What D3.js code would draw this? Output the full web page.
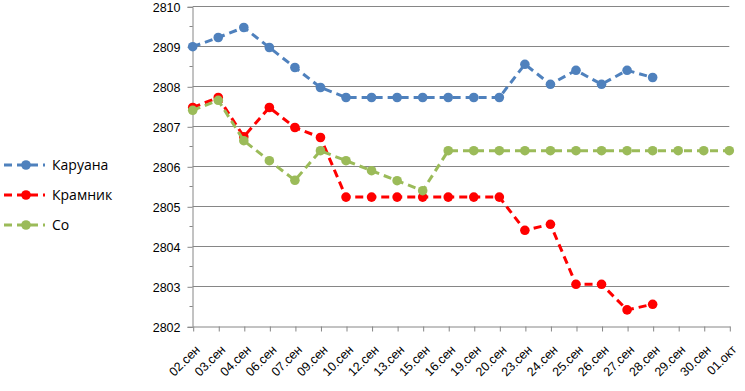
<!DOCTYPE html>
<html>
<head>
<meta charset="utf-8">
<script src="https://cdn.jsdelivr.net/npm/d3@7"></script>
<style>
  body { margin: 0; background: #fff; }
  svg { font-family: "Open Sans", "DejaVu Sans", sans-serif; }
</style>
</head>
<body>
<div id="chart"></div>
<script>
// dates along the x axis
var dates = ["02.сен","03.сен","04.сен","06.сен","07.сен","09.сен","10.сен","12.сен","13.сен","15.сен",
  "16.сен","19.сен","20.сен","23.сен","24.сен","25.сен","26.сен","27.сен","28.сен","29.сен","30.сен","01.окт"];

var caruana = [2808.99,2809.22,2809.47,2808.97,2808.47,2807.97,2807.72,2807.72,2807.72,2807.72,
  2807.72,2807.72,2807.72,2808.55,2808.05,2808.4,2808.05,2808.4,2808.22,null,null,null];
var kramnik = [2807.47,2807.72,2806.74,2807.47,2806.97,2806.72,2805.23,2805.23,2805.23,2805.23,
  2805.23,2805.23,2805.23,2804.4,2804.55,2803.05,2803.05,2802.41,2802.55,null,null,null];
var so = [2807.4,2807.65,2806.64,2806.14,2805.65,2806.39,2806.14,2805.89,2805.64,2805.39,
  2806.39,2806.39,2806.39,2806.39,2806.39,2806.39,2806.39,2806.39,2806.39,2806.39,2806.39,2806.39];

var names = ["Каруана","Крамник","Со"];
var colors = ["#4F81BD","#FF0000","#9BBB59"];
var yTicks = [2802,2803,2804,2805,2806,2807,2808,2809,2810];

var series = [caruana, kramnik, so];

var width = 745, height = 391;
var svg = d3.select("#chart").append("svg")
  .attr("width", width)
  .attr("height", height);

var x = d3.scalePoint().domain(dates).range([192.7, 729.3]);
var y = d3.scaleLinear().domain([2802, 2810]).range([326.3, 6.3]);

// gridlines
svg.append("g")
  .selectAll("line")
  .data(yTicks.slice(1))
  .enter()
  .append("line")
  .attr("x1", 192.7)
  .attr("x2", 729.3)
  .attr("y1", d => Math.round(y(d)) + 0.5)
  .attr("y2", d => Math.round(y(d)) + 0.5)
  .attr("stroke", "#868686")
  .attr("stroke-width", 1);

// minor ticks on y axis
var minor = d3.range(2802.5, 2810, 1);
svg.append("g")
  .selectAll("line")
  .data(minor)
  .enter()
  .append("line")
  .attr("x1", 189.5)
  .attr("x2", 192.7)
  .attr("y1", d => Math.round(y(d)) + 0.5)
  .attr("y2", d => Math.round(y(d)) + 0.5)
  .attr("stroke", "#868686");

// y axis
var yAxis = svg.append("g")
  .attr("transform", "translate(192.5,0.5)")
  .call(d3.axisLeft(y).tickValues(yTicks).tickSize(5).tickPadding(7).tickFormat(d3.format("d")));
yAxis.select(".domain").attr("stroke", "#868686");
yAxis.selectAll(".tick line").attr("stroke", "#868686");
yAxis.selectAll("text")
  .attr("font-size", "12.5px")
  .attr("dy", "0.38em")
  .attr("fill", "#000")
  .attr("font-family", "'Liberation Sans', sans-serif");

// x axis
var xAxis = svg.append("g")
  .attr("transform", "translate(0.5," + (Math.round(y(2802)) + 0.5) + ")")
  .call(d3.axisBottom(x).tickSize(5).tickSizeOuter(0));
xAxis.select(".domain").attr("stroke", "#868686");
xAxis.selectAll(".tick line").attr("stroke", "#868686");
xAxis.selectAll("text")
  .attr("font-size", "12.5px")
  .attr("fill", "#000")
  .attr("text-anchor", "end")
  .attr("dy", null)
  .attr("y", 0)
  .attr("transform", "translate(7,24) rotate(-45)");

// series lines and markers
series.forEach(function (vals, i) {
  var pts = dates.map((d, j) => ({ d: d, v: vals[j] })).filter(p => p.v != null);
  var line = d3.line()
    .x(p => x(p.d))
    .y(p => y(p.v));

  svg.append("path")
    .datum(pts)
    .attr("d", line)
    .attr("fill", "none")
    .attr("stroke", colors[i])
    .attr("stroke-width", 3)
    .attr("stroke-dasharray", "8,5");

  svg.append("g")
    .selectAll("circle")
    .data(pts)
    .enter()
    .append("circle")
    .attr("cx", p => x(p.d))
    .attr("cy", p => y(p.v))
    .attr("r", 4.8)
    .attr("fill", colors[i]);
});

// legend
var legend = svg.append("g");
names.forEach(function (n, i) {
  var ly = 165 + i * 30;
  legend.append("line")
    .attr("x1", 4)
    .attr("x2", 45)
    .attr("y1", ly)
    .attr("y2", ly)
    .attr("stroke", colors[i])
    .attr("stroke-width", 3)
    .attr("stroke-dasharray", "8,5");
  legend.append("circle")
    .attr("cx", 26)
    .attr("cy", ly)
    .attr("r", 4.8)
    .attr("fill", colors[i]);
  legend.append("text")
    .attr("x", 52)
    .attr("y", ly + 5)
    .attr("font-size", "14px")
    .attr("fill", "#000")
    .text(n);
});
</script>
</body>
</html>
